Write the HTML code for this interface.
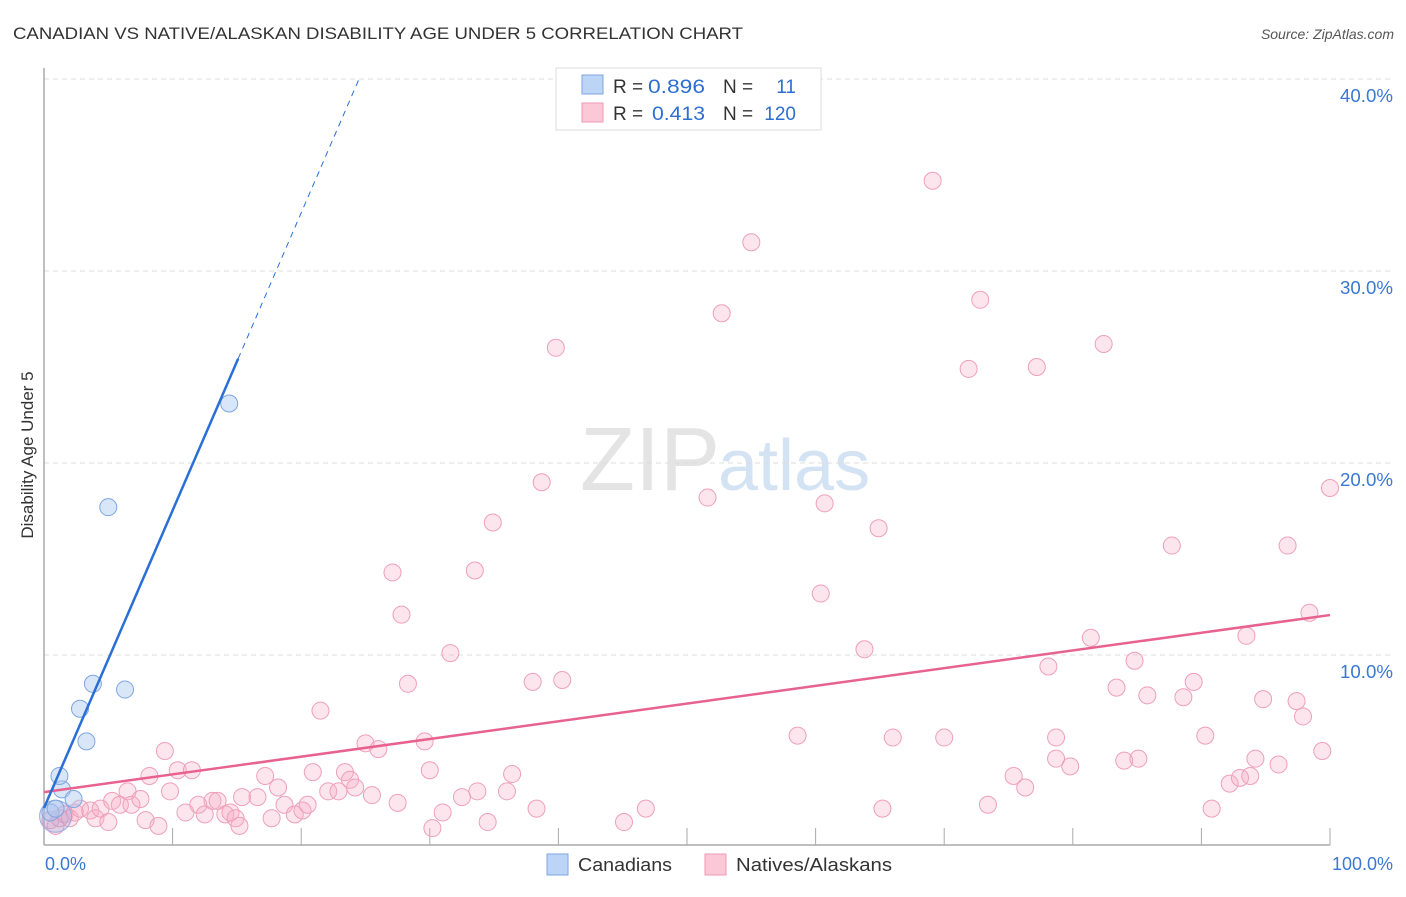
<!DOCTYPE html>
<html><head><meta charset="utf-8"><style>
body{margin:0;background:#fff;font-family:"Liberation Sans",sans-serif}
svg text{font-family:"Liberation Sans",sans-serif}
</style></head><body>
<svg id="c" width="1406" height="892" xmlns="http://www.w3.org/2000/svg">
<text x="13" y="39" font-size="17" fill="#333" textLength="730" lengthAdjust="spacingAndGlyphs">CANADIAN VS NATIVE/ALASKAN DISABILITY AGE UNDER 5 CORRELATION CHART</text>
<text x="1394" y="39" font-size="14" fill="#555" font-style="italic" text-anchor="end">Source: ZipAtlas.com</text>
<text x="33" y="455" font-size="17" fill="#333" transform="rotate(-90 33 455)" text-anchor="middle">Disability Age Under 5</text>
<text x="720" y="490" font-size="90" fill="#e4e4e4" text-anchor="end" font-family="Liberation Serif">ZIP</text>
<text x="718" y="490" font-size="72" fill="#d4e3f3">atlas</text>
<g id="grid"></g><g id="marks"></g>
<g>
<rect x="556" y="68" width="265" height="62" fill="#fff" stroke="#ddd"/>
<rect x="582" y="75" width="21" height="19" fill="#bcd4f5" stroke="#7ea6e0"/>
<rect x="582" y="103" width="21" height="19" fill="#fbc8d7" stroke="#ee9ab4"/>
<text x="613" y="93" font-size="19" fill="#333">R =</text>
<text x="648" y="93" font-size="19" fill="#2d6fd0" textLength="57" lengthAdjust="spacingAndGlyphs">0.896</text>
<text x="723" y="93" font-size="19" fill="#333">N =</text>
<text x="796" y="93" font-size="19" fill="#2d6fd0" text-anchor="end">11</text>
<text x="613" y="120" font-size="19" fill="#333">R =</text>
<text x="652" y="120" font-size="19" fill="#2d6fd0" textLength="53" lengthAdjust="spacingAndGlyphs">0.413</text>
<text x="723" y="120" font-size="19" fill="#333">N =</text>
<text x="796" y="120" font-size="19" fill="#2d6fd0" text-anchor="end">120</text>
</g>
<g>
<rect x="547" y="854" width="21" height="21" fill="#bcd4f5" stroke="#7ea6e0"/>
<text x="578" y="871" font-size="18" fill="#333" textLength="94" lengthAdjust="spacingAndGlyphs">Canadians</text>
<rect x="705" y="854" width="21" height="21" fill="#fbc8d7" stroke="#ee9ab4"/>
<text x="736" y="871" font-size="18" fill="#333" textLength="156" lengthAdjust="spacingAndGlyphs">Natives/Alaskans</text>
</g>
</svg>
<script>
const yTicks=[10,20,30,40];
const yTickLabels=["10.0%","20.0%","30.0%","40.0%"];
const xTickLabels=["0.0%","100.0%"];
const blueX=[0.5,0.9,1.4,1.2,2.3,2.8,3.3,3.8,5.0,6.3,14.4];
const blueY=[1.8,2.0,3.0,3.7,2.5,7.2,5.5,8.5,17.7,8.2,23.1];
const pinkX=[0.5,0.9,1.2,1.6,2.0,2.4,2.8,3.6,4.0,4.4,5.0,5.3,5.9,6.5,6.8,7.5,7.9,8.2,8.9,9.4,9.8,10.4,11.0,11.5,12.0,12.5,13.1,13.5,14.1,14.5,14.9,15.2,15.4,16.6,17.2,17.7,18.2,18.7,19.5,20.1,20.5,20.9,21.5,22.1,22.9,23.4,23.8,24.2,25.0,25.5,26.0,27.1,27.5,27.8,28.3,29.6,30.0,30.2,31.0,31.6,32.5,33.5,33.7,34.5,34.9,36.0,36.4,38.0,38.3,38.7,39.8,40.3,45.1,46.8,51.6,52.7,55.0,58.6,60.4,60.7,63.8,64.9,65.2,66.0,69.1,70.0,71.9,72.8,73.4,75.4,76.3,77.2,78.1,78.7,78.7,79.8,81.4,82.4,83.4,84.0,84.8,85.1,85.8,87.7,88.6,89.4,90.3,90.8,92.2,93.0,93.5,93.8,94.2,94.8,96.0,96.7,97.4,97.9,98.4,99.4,100.0];
const pinkY=[1.4,1.1,1.5,1.7,1.5,1.8,2.0,1.9,1.5,2.0,1.3,2.4,2.2,2.9,2.2,2.5,1.4,3.7,1.1,5.0,2.9,4.0,1.8,4.0,2.2,1.7,2.4,2.4,1.7,1.8,1.5,1.1,2.6,2.6,3.7,1.5,3.1,2.2,1.7,1.9,2.2,3.9,7.1,2.9,2.9,3.9,3.5,3.1,5.4,2.7,5.1,14.3,2.3,12.1,8.5,5.5,4.0,0.98,1.8,10.1,2.6,14.4,2.9,1.3,16.9,2.9,3.8,8.6,2.0,19.0,26.0,8.7,1.3,2.0,18.2,27.8,31.5,5.8,13.2,17.9,10.3,16.6,2.0,5.7,34.7,5.7,24.9,28.5,2.2,3.7,3.1,25.0,9.4,5.7,4.6,4.2,10.9,26.2,8.3,4.5,9.7,4.6,7.9,15.7,7.8,8.6,5.8,2.0,3.3,3.6,11.0,3.7,4.6,7.7,4.3,15.7,7.6,6.8,12.2,5.0,18.7];
const X0=44,X1=1330,Y0=847,PY=19.2;
const sx=v=>X0+(X1-X0)*v/100, sy=v=>Y0-PY*v;
const NS="http://www.w3.org/2000/svg";
function mk(tag,attrs,parent){const e=document.createElementNS(NS,tag);for(const k in attrs)e.setAttribute(k,attrs[k]);parent.appendChild(e);return e;}
const grid=document.getElementById('grid'),marks=document.getElementById('marks');
yTicks.forEach((t,i)=>{
 const l=mk('line',{x1:44,x2:1393,y1:sy(t),y2:sy(t),stroke:'#ddd','stroke-dasharray':'5,4'},grid);
 
 
 const tx=mk('text',{x:1393,y:sy(t)+23,'font-size':18,fill:'#3a78d4','text-anchor':'end',textLength:53,lengthAdjust:'spacingAndGlyphs'},grid);
 tx.textContent=yTickLabels[i];
 
 
});
const ax=mk('line',{x1:44,x2:44,y1:68,y2:845,stroke:'#aaa','stroke-width':1.5},grid);


const bx=mk('line',{x1:44,x2:1330,y1:845,y2:845,stroke:'#aaa','stroke-width':1.5},grid);


for(let k=1;k<=10;k++){const t=mk('line',{x1:sx(k*10),x2:sx(k*10),y1:828,y2:845,stroke:'#aaa'},grid);
 
 }
[[0,'start',45],[100,'end',1393]].forEach((d,i)=>{const t=mk('text',{x:d[2],y:870,'font-size':18,fill:'#3a78d4','text-anchor':d[1]},grid);t.textContent=xTickLabels[i];
 
 });
pinkX.forEach((x,i)=>{const c=mk('circle',{cx:sx(x),cy:sy(pinkY[i]),r:8.5,fill:'rgba(248,170,195,0.3)',stroke:'#eea0b8','stroke-width':1},marks);
 
 });
const big=mk('circle',{cx:sx(0.9),cy:sy(1.6),r:16,fill:'rgba(150,160,220,0.3)',stroke:'#9aaae0'},marks);


blueX.forEach((x,i)=>{const c=mk('circle',{cx:sx(x),cy:sy(blueY[i]),r:8.5,fill:'rgba(170,200,240,0.45)',stroke:'#7ea6e0','stroke-width':1},marks);
 
 });
const pl=mk('line',{x1:sx(0),y1:sy(2.86),x2:sx(100),y2:sy(12.08),stroke:'#e8628f','stroke-width':2.5},marks);


const b0=2.03,bs=1.55;
const bl=mk('line',{x1:sx(0),y1:sy(b0),x2:sx(15.1),y2:sy(b0+bs*15.1),stroke:'#2a6fd6','stroke-width':2.5},marks);


const bd=mk('line',{x1:sx(15.1),y1:sy(b0+bs*15.1),x2:sx(24.5),y2:sy(b0+bs*24.5),stroke:'#2a6fd6','stroke-width':1,'stroke-dasharray':'6,5'},marks);


</script>
</body></html>
